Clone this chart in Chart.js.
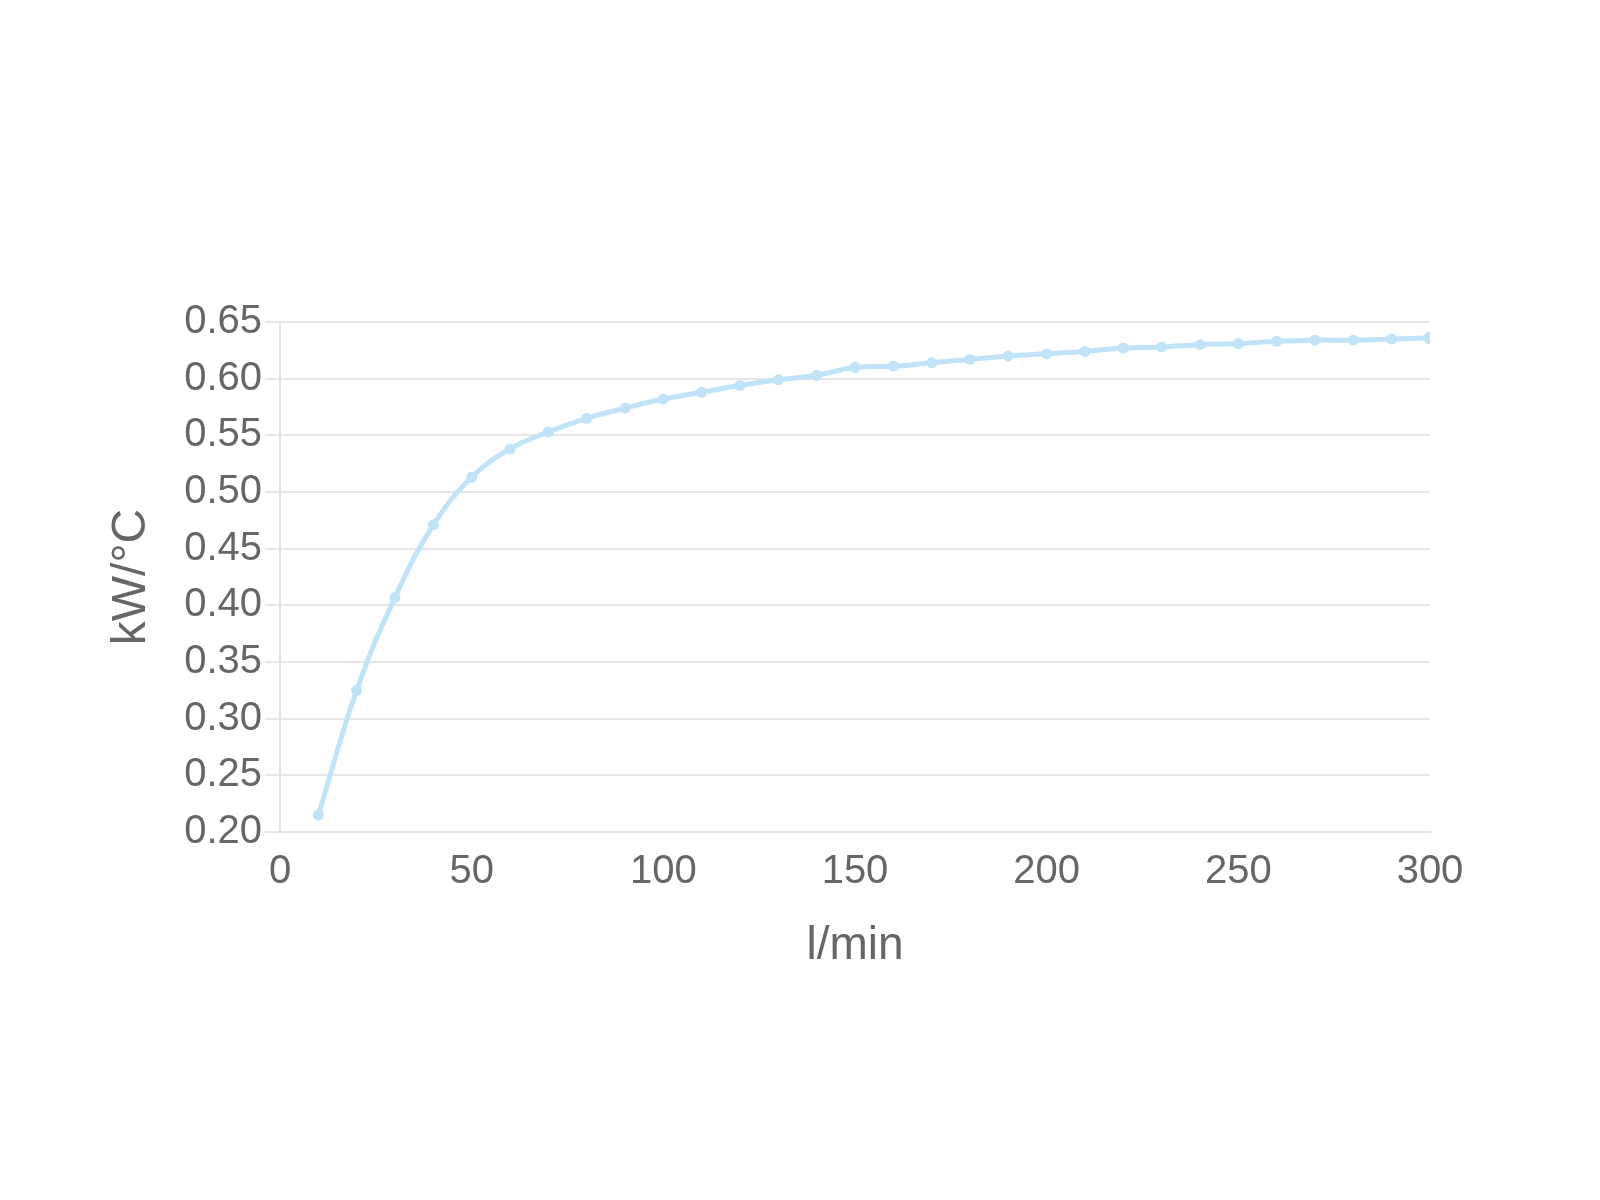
<!DOCTYPE html>
<html>
<head>
<meta charset="utf-8">
<script src="https://cdn.jsdelivr.net/npm/chart.js@4"></script>
<style>
  html, body { margin: 0; padding: 0; background: #fff; }
  #wrap { width: 1600px; height: 1200px; }
</style>
</head>
<body>
<div id="wrap"><canvas id="myChart" width="1600" height="1200"></canvas></div>
<script>
// flow rate (l/min) against heat transfer (kW/°C)
const flowRates = [10, 20, 30, 40, 50, 60, 70, 80, 90, 100,
  110, 120, 130, 140, 150, 160, 170, 180, 190, 200,
  210, 220, 230, 240, 250, 260, 270, 280, 290, 300];
const kwPerDeg = [0.215, 0.325, 0.407, 0.471, 0.513, 0.538, 0.553, 0.565, 0.574, 0.582,
  0.588, 0.594, 0.599, 0.603, 0.610, 0.611, 0.614, 0.617, 0.620, 0.622,
  0.624, 0.627, 0.628, 0.630, 0.631, 0.633, 0.634, 0.634, 0.635, 0.636];
const xTicks = [0, 50, 100, 150, 200, 250, 300];
const yTicks = [0.20, 0.25, 0.30, 0.35, 0.40, 0.45, 0.50, 0.55, 0.60, 0.65];

const lineColor = "#bfe3f9";
const textColor = "#666666";

Chart.defaults.font.family = "'Liberation Sans', Arial, sans-serif";
Chart.defaults.color = textColor;

const makeGraph = () => {
  const chart_ctx = document.getElementById("myChart");
  const points = flowRates.map((x, i) => ({ x: x, y: kwPerDeg[i] }));
  const data = {
    datasets: [
      {
        label: "kW/°C",
        data: points,
        borderColor: lineColor,
        backgroundColor: lineColor,
        borderWidth: 5,
        pointRadius: points.map((p, i) => (i === points.length - 1 ? 6.5 : 5.5)),
        pointBorderWidth: 0,
        tension: 0.4,
        fill: false,
      },
    ],
  };
  const config = {
    type: "line",
    data,
    options: {
      responsive: false,
      animation: false,
      layout: { padding: { left: 80, top: 322, right: 170, bottom: 226 } },
      plugins: {
        legend: { display: false },
        tooltip: { enabled: false },
      },
      scales: {
        x: {
          type: "linear",
          min: xTicks[0],
          max: xTicks[xTicks.length - 1],
          afterBuildTicks: (scale) => {
            scale.ticks = xTicks.map((v) => ({ value: v }));
          },
          afterFit: (scale) => {
            scale.height = 142;
          },
          grid: { display: false, drawTicks: false },
          border: { color: "#e3e3e3", width: 2 },
          ticks: {
            padding: 16,
            color: textColor,
            font: { size: 40 },
            maxRotation: 0,
          },
          title: {
            display: true,
            text: "l/min",
            color: textColor,
            font: { size: 46 },
            padding: { top: 0, bottom: 0 },
          },
        },
        y: {
          type: "linear",
          min: yTicks[0],
          max: yTicks[yTicks.length - 1],
          afterBuildTicks: (scale) => {
            scale.ticks = yTicks.map((v) => ({ value: v }));
          },
          afterFit: (scale) => {
            scale.width = 200;
          },
          grid: { color: "#e6e6e6", lineWidth: 2, tickLength: 15 },
          border: { color: "#e3e3e3", width: 2 },
          ticks: {
            padding: 3,
            color: textColor,
            font: { size: 40 },
            callback: (v) => Number(v).toFixed(2),
          },
          title: {
            display: true,
            text: "kW/°C",
            color: textColor,
            font: { size: 48 },
            padding: { top: 23, bottom: 0 },
          },
        },
      },
    },
  };
  return new Chart(chart_ctx, config);
};

makeGraph();
</script>
</body>
</html>
